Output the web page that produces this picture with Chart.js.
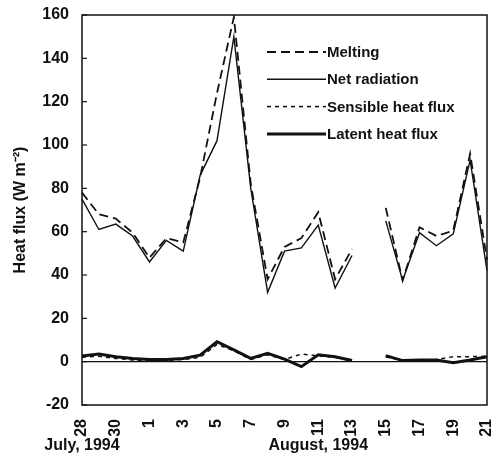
<!DOCTYPE html>
<html>
<head>
<meta charset="utf-8">
<script src="https://cdn.jsdelivr.net/npm/chart.js@4.4.0/dist/chart.umd.min.js"></script>
<style>
  html, body { margin: 0; padding: 0; background: #fff; }
  #wrap { width: 502px; height: 459px; }
</style>
</head>
<body>
<div id="wrap"><canvas id="myChart" width="502" height="459"></canvas></div>
<script>
// days from 28 July to 21 August 1994
var days = ['28', '29', '30', '31', '1', '2', '3', '4', '5', '6', '7', '8', '9', '10', '11', '12', '13', '14', '15', '16', '17', '18', '19', '20', '21'];
var melting = [78, 68, 66, 59.5, 48, 57, 55, 85, 124, 159, 82, 38, 53, 57, 69, 38, 52, null, 71, 37.5, 62, 58, 60.5, 96, 47];
var netRadiation = [75, 61, 63.5, 58, 46, 56, 51, 86, 102, 150, 80, 32, 51, 52.5, 63, 34, 49, null, 65, 37.5, 59.5, 53.5, 59, 93, 42];
var sensible = [2, 2.5, 1.5, 0.8, 0.5, 0.5, 1, 2, 8, 5, 1, 3.2, 1, 3.5, 2.7, 2, 0.3, null, 2.2, 0.5, 0.5, 1, 2.3, 2.3, 2.5];
var latent = [2.6, 3.5, 2.3, 1.5, 1, 1, 1.5, 3, 9.2, 5.4, 1.5, 3.8, 1.2, -2.3, 3.2, 2.3, 0.5, null, 2.8, 0.5, 0.8, 0.8, -0.5, 0.8, 2.3];
var monthLabels = [['July, 1994', '28'], ['August, 1994', '11']];

var ink = '#111';
var fontName = "'Liberation Sans', Arial, Helvetica, sans-serif";

// box, inward y ticks, month labels and the legend
var extras = {
  id: 'extras',
  afterDraw: function (chart) {
    var ctx = chart.ctx, a = chart.chartArea;
    var ys = chart.scales.y, xs = chart.scales.x;
    ctx.save();
    ctx.strokeStyle = ink;
    ctx.lineWidth = 1.5;
    ctx.strokeRect(a.left, a.top, a.right - a.left, a.bottom - a.top);
    ctx.lineWidth = 1.2;
    ys.ticks.forEach(function (t) {
      var y = ys.getPixelForValue(t.value);
      ctx.beginPath();
      ctx.moveTo(a.left, y);
      ctx.lineTo(a.left + 5, y);
      ctx.stroke();
    });
    ctx.fillStyle = ink;
    ctx.font = 'bold 16px ' + fontName;
    ctx.textAlign = 'center';
    ctx.textBaseline = 'middle';
    monthLabels.forEach(function (m) {
      var x = xs.getPixelForValue(days.indexOf(m[1]));
      ctx.fillText(m[0], x, a.bottom + 41);
    });
    ctx.font = 'bold 15px ' + fontName;
    ctx.textAlign = 'left';
    chart.data.datasets.forEach(function (ds, i) {
      var y = a.top + 37 + i * 27.3;
      var x0 = a.left + 185, x1 = a.left + 244;
      ctx.save();
      ctx.setLineDash(ds.borderDash || []);
      ctx.lineWidth = ds.borderWidth;
      ctx.strokeStyle = ds.borderColor;
      ctx.beginPath();
      ctx.moveTo(x0, y);
      ctx.lineTo(x1, y);
      ctx.stroke();
      ctx.restore();
      ctx.fillText(ds.label, x1 + 1, y + 1);
    });
    ctx.restore();
  }
};

new Chart('myChart', {
  type: 'line',
  data: {
    labels: days,
    datasets: [{
      label: 'Melting',
      data: melting,
      borderColor: ink,
      borderWidth: 1.8,
      borderDash: [9, 5]
    }, {
      label: 'Net radiation',
      data: netRadiation,
      borderColor: ink,
      borderWidth: 1.4
    }, {
      label: 'Sensible heat flux',
      data: sensible,
      borderColor: ink,
      borderWidth: 1.5,
      borderDash: [4, 4]
    }, {
      label: 'Latent heat flux',
      data: latent,
      borderColor: ink,
      borderWidth: 3
    }]
  },
  options: {
    responsive: false,
    animation: false,
    elements: { point: { radius: 0 }, line: { tension: 0 } },
    layout: { padding: { top: 15, right: 15, left: 0, bottom: 0 } },
    plugins: { legend: { display: false }, tooltip: { enabled: false } },
    scales: {
      x: {
        grid: { display: false },
        border: { display: false },
        ticks: {
          autoSkip: false,
          minRotation: 90,
          maxRotation: 90,
          padding: 6,
          color: ink,
          font: { family: fontName, size: 16, weight: 'bold' },
          callback: function (v, i) { return i % 2 === 0 ? days[i] : ''; }
        },
        afterFit: function (s) { s.height = 54; s.paddingLeft = 0; s.paddingRight = 0; }
      },
      y: {
        min: -20,
        max: 160,
        grid: {
          drawTicks: false,
          lineWidth: 1.2,
          color: function (c) { return c.tick && c.tick.value === 0 ? ink : 'rgba(0,0,0,0)'; }
        },
        border: { display: false },
        ticks: {
          stepSize: 20,
          padding: 13,
          color: ink,
          font: { family: fontName, size: 16, weight: 'bold' }
        },
        title: {
          display: true,
          text: 'Heat flux (W m⁻²)',
          color: ink,
          font: { family: fontName, size: 16, weight: 'bold' },
          padding: { top: 11, bottom: 0 }
        },
        afterFit: function (s) { s.width = 82; s.paddingTop = 0; s.paddingBottom = 0; }
      }
    }
  },
  plugins: [extras]
});
</script>
</body>
</html>
